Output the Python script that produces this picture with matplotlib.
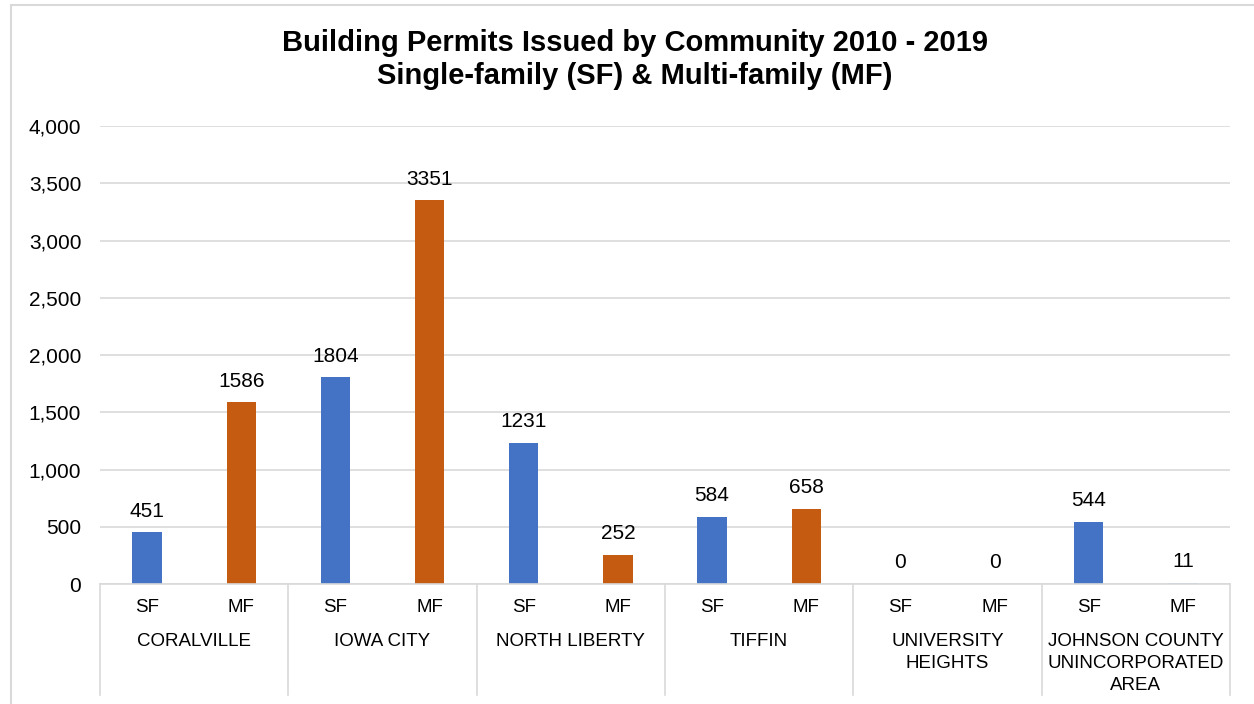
import matplotlib.pyplot as plt
import matplotlib.transforms as mtransforms
from matplotlib.patches import Rectangle

plt.rcParams['font.family'] = ['Liberation Sans', 'DejaVu Sans']

communities = ["CORALVILLE", "IOWA CITY", "NORTH LIBERTY", "TIFFIN",
               "UNIVERSITY\nHEIGHTS", "JOHNSON COUNTY\nUNINCORPORATED\nAREA"]
sf_permits = [451, 1804, 1231, 584, 0, 544]
mf_permits = [1586, 3351, 252, 658, 0, 11]
sub_labels = ["SF", "MF"]

BLUE = "#4472c4"
ORANGE = "#c55a11"
PALE = "#b4c7e7"
GRID = "#d9d9d9"

fig = plt.figure(figsize=(12.54, 7.04), dpi=100)
ax = fig.add_axes([100 / 1254, 1 - 584 / 704, 1130 / 1254, 458 / 704])

# outer chart border
fig.patches.append(Rectangle((11 / 1254, -0.1), 1.2, 1 - 5 / 704 + 0.1,
                             transform=fig.transFigure, fill=False,
                             edgecolor=GRID, linewidth=1.5))

values, colors, xs = [], [], []
for i, (sf, mf) in enumerate(zip(sf_permits, mf_permits)):
    xs += [2 * i, 2 * i + 1]
    values += [sf, mf]
    colors += [BLUE, PALE if i == len(communities) - 1 else ORANGE]

ax.bar(xs, values, width=0.31, color=colors, zorder=3)
for x, v in zip(xs, values):
    ax.annotate(str(v), (x, v), xytext=(0, 8.5), textcoords="offset points",
                ha="center", va="bottom", fontsize=15)

ax.set_xlim(-0.5, 2 * len(communities) - 0.5)
ax.set_ylim(0, 4000)
ax.set_yticks(range(0, 4001, 500))
ax.set_yticklabels([f"{t:,}" for t in range(0, 4001, 500)], fontsize=15)
ax.tick_params(axis="y", length=0, pad=13.5)
ax.set_xticks([])
ax.grid(axis="y", color=GRID, linewidth=1.2, zorder=0)
for side in ["top", "right", "left"]:
    ax.spines[side].set_visible(False)
ax.spines["bottom"].set_color(GRID)
ax.spines["bottom"].set_linewidth(1.2)
ax.spines["bottom"].set_zorder(4)

# two-level category axis
trans = mtransforms.blended_transform_factory(ax.transData, ax.transAxes)
for b in range(len(communities) + 1):
    ax.plot([2 * b - 0.5, 2 * b - 0.5], [0, -0.242], transform=trans,
            color=GRID, linewidth=1.2, clip_on=False)
for x in xs:
    ax.text(x, -0.052, sub_labels[x % 2], transform=trans, ha="center",
            va="center", fontsize=13.5)
for i, name in enumerate(communities):
    ax.text(2 * i + 0.5, -0.108, name, transform=trans, ha="center",
            va="top", fontsize=13.5, linespacing=1.35)

fig.text(635 / 1254, 1 - 43 / 704, "Building Permits Issued by Community 2010 - 2019",
         ha="center", va="center", fontsize=21, fontweight="bold")
fig.text(635 / 1254, 1 - 76 / 704, "Single-family (SF) & Multi-family (MF)",
         ha="center", va="center", fontsize=21, fontweight="bold")

fig.savefig("out.png", dpi=100)
